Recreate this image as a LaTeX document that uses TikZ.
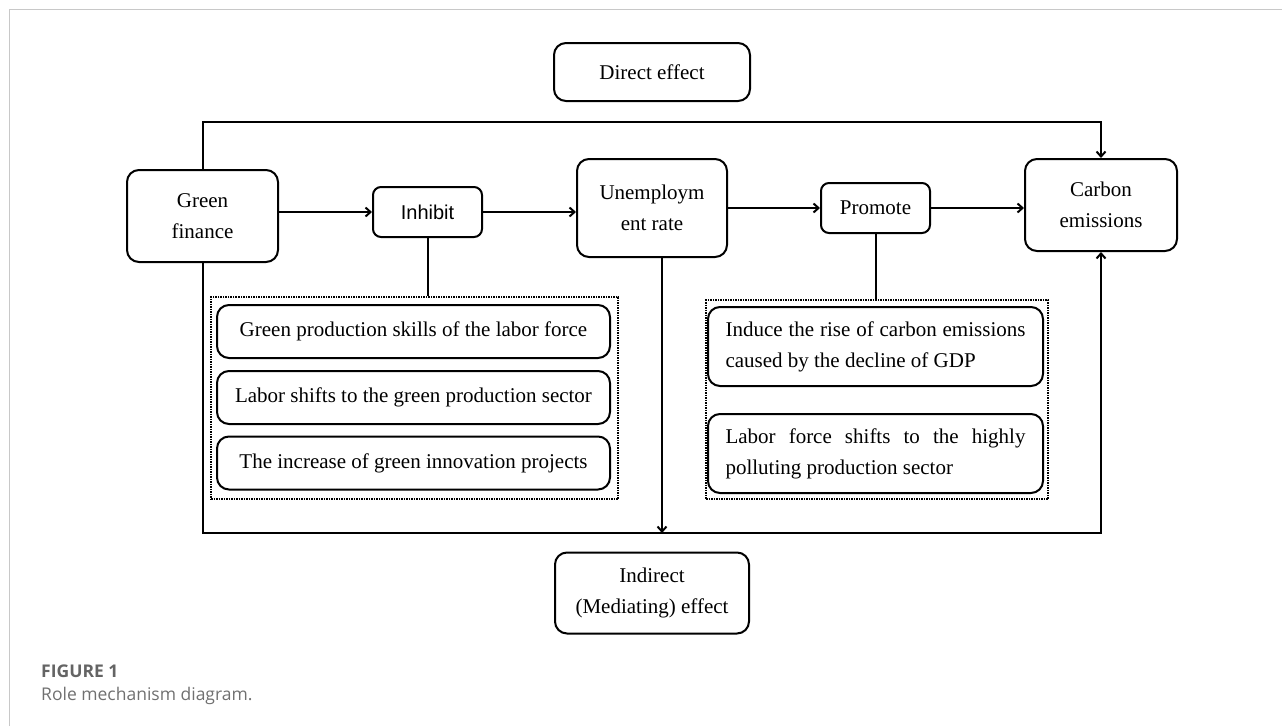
\documentclass[tikz,border=0pt]{standalone}
\usepackage{fontspec}
\setmainfont{Liberation Serif}
\setsansfont{Liberation Sans}
\newfontfamily\capfont{Open Sans}
\usetikzlibrary{arrows.meta}
\hyphenpenalty=10000
\definecolor{framegray}{RGB}{200,200,200}
\definecolor{capgray}{RGB}{100,100,100}
\definecolor{subgray}{RGB}{112,112,112}
\begin{document}
\begin{tikzpicture}
		[x=1pt, y=-1pt,
		>={Straight Barb[length=5pt,width=9pt]},
		mybox/.style={
			draw,
			rectangle,
			rounded corners=12pt,
			line width=2pt,
			align=center,
			inner sep=0pt,
			font=\fontsize{21}{31}\selectfont
		},
		smallbox/.style={mybox,rounded corners=8pt,minimum width=109pt,minimum height=50pt},
		itembox/.style={mybox,minimum width=393pt,minimum height=53pt},
		textbox/.style={mybox,text width=300pt,inner xsep=17.5pt,minimum height=79pt,align=justify},
		groupbox/.style={draw,densely dotted,line width=1.5pt,inner sep=0pt},
		link/.style={line width=2pt},
		captext/.style={anchor=west,inner sep=0pt}]
		\useasboundingbox (0,0) rectangle (1282,726);
		\draw[framegray,line width=1.5pt] (9.5,726) -- (9.5,9.5) -- (1282,9.5);
		% main chain
		\node[mybox,minimum width=196pt,minimum height=58pt] (direct) at (652,72) {Direct effect};
		\node[mybox,minimum width=151pt,minimum height=92pt] (gf) at (202.5,216) {Green\\finance};
		\node[smallbox,font=\sffamily\fontsize{20}{24}\selectfont] (inh) at (427.5,212) {Inhibit};
		\node[mybox,minimum width=150pt,minimum height=98pt] (une) at (652,208) {Unemploym\\ent rate};
		\node[smallbox] (pro) at (875.5,208) {Promote};
		\node[mybox,minimum width=152pt,minimum height=92pt] (car) at (1101,205) {Carbon\\emissions};
		\node[mybox,minimum width=194pt,minimum height=81pt] (indirect) at (652,593) {Indirect\\(Mediating) effect};
		% channels
		\node[groupbox,minimum width=407pt,minimum height=202pt] (lgrp) at (414.5,398) {};
		\node[itembox] (skill) at (413.5,331.5) {Green production skills of the labor force};
		\node[itembox] (shift) at (413.5,397.5) {Labor shifts to the green production sector};
		\node[itembox] (innov) at (413.5,463) {The increase of green innovation projects};
		\node[groupbox,minimum width=342pt,minimum height=199pt] (rgrp) at (877,399.5) {};
		\node[textbox] (gdp) at (875.5,346.5) {Induce the rise of carbon emissions caused by the decline of GDP};
		\node[textbox] (pollute) at (875.5,453.5) {Labor force shifts to the highly polluting production sector};
		% connectors
		\coordinate (topr) at (1101,122);
		\coordinate (botr) at (1101,533);
		\coordinate (bota) at (662,533);
		\draw[link,->] (gf.north) |- (topr) -- (car.north);
		\draw[link,->] (gf.south) |- (botr) -- (car.south);
		\draw[link,->] (gf.east |- inh.west) -- (inh.west);
		\draw[link,->] (inh.east) -- (une.west |- inh.east);
		\draw[link,->] (une.east |- pro.west) -- (pro.west);
		\draw[link,->] (pro.east) -- (car.west |- pro.east);
		\draw[link,->] (une.south -| bota) -- (bota);
		\draw[link] (inh.south) -- (inh.south |- lgrp.north);
		\draw[link] (pro.south) -- (pro.south |- rgrp.north);
		% caption
		\node[captext,text=capgray,font=\capfont\bfseries\fontsize{17.5}{21}\selectfont] (fig) at (41,671) {FIGURE 1};
		\node[captext,text=subgray,font=\capfont\fontsize{17.5}{21}\selectfont] (cap) at (41,696) {Role mechanism diagram.};
	\end{tikzpicture}
\end{document}
